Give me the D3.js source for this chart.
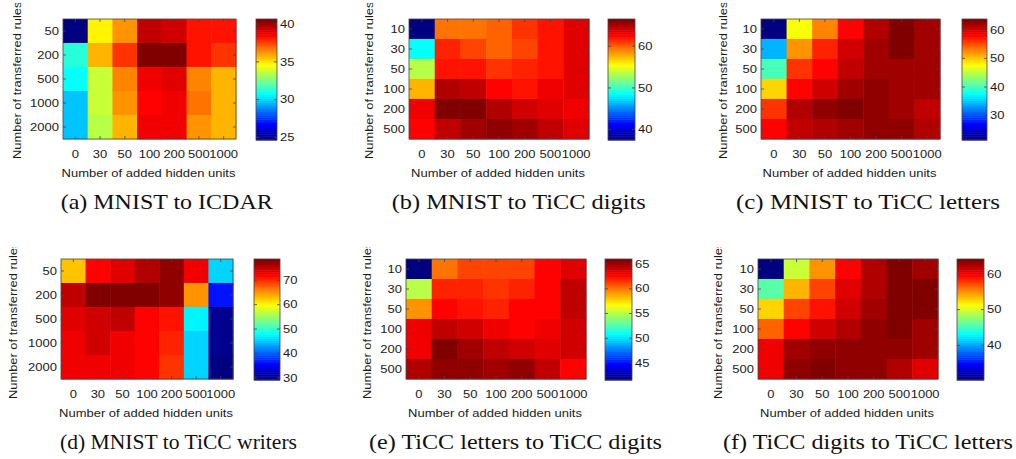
<!DOCTYPE html>
<html><head><meta charset="utf-8">
<script src="https://cdn.jsdelivr.net/npm/d3@7"></script>
<style>body{margin:0;background:#fff}svg{display:block}</style>
</head><body>
<svg id="c" width="1016" height="459"></svg>
<script>
// ---- data ----
const hiddenUnits = ["0","30","50","100","200","500","1000"];
const rulesLarge = ["50","200","500","1000","2000"];
const rulesSmall = ["10","30","50","100","200","500"];

const valuesA = [
  [24.6, 34.6, 36.2, 39.4, 39.1, 38.2, 38.2],
  [31.3, 35.6, 37.6, 40.6, 40.4, 38.2, 37.6],
  [30.6, 33.6, 36.4, 38.7, 39.0, 36.4, 35.8],
  [29.8, 33.8, 36.2, 38.4, 38.8, 36.8, 35.6],
  [29.8, 33.5, 35.8, 38.7, 38.8, 36.1, 35.6]
];
const valuesB = [
  [37.4, 59.2, 59.2, 60.0, 61.2, 62.3, 63.5],
  [48.4, 61.5, 60.9, 60.0, 60.6, 62.3, 63.5],
  [53.4, 62.3, 62.3, 61.2, 61.5, 62.3, 63.5],
  [57.7, 65.0, 64.4, 62.6, 62.3, 62.9, 63.5],
  [62.9, 66.4, 66.3, 65.0, 64.1, 63.5, 63.2],
  [62.6, 64.4, 65.2, 65.5, 65.2, 64.4, 63.5]
];
const valuesC = [
  [21.3, 47.5, 53.0, 58.1, 61.5, 63.2, 61.9],
  [34.0, 52.2, 56.4, 60.2, 61.9, 63.2, 61.9],
  [40.3, 56.0, 57.7, 60.6, 61.9, 61.9, 61.9],
  [49.2, 57.7, 60.2, 61.9, 62.3, 61.9, 61.9],
  [56.0, 61.0, 62.3, 63.6, 62.3, 61.9, 60.6],
  [57.7, 60.6, 61.5, 61.9, 62.3, 62.3, 61.5]
];
const valuesD = [
  [62.6, 72.0, 73.5, 76.0, 77.5, 73.0, 45.3],
  [75.0, 78.5, 78.4, 78.3, 77.5, 65.1, 36.3],
  [73.5, 74.0, 75.0, 72.0, 71.0, 47.3, 30.4],
  [72.5, 74.0, 72.5, 72.0, 70.6, 45.8, 29.9],
  [73.0, 73.0, 72.5, 72.0, 69.6, 45.3, 28.9]
];
const valuesE = [
  [41.5, 60.0, 61.0, 61.0, 61.0, 62.5, 63.5],
  [54.9, 62.0, 62.0, 61.5, 61.8, 62.5, 64.0],
  [59.1, 62.5, 62.2, 61.8, 62.7, 62.7, 64.0],
  [63.0, 64.0, 63.7, 63.0, 62.7, 63.2, 63.7],
  [63.0, 65.9, 64.9, 64.2, 63.7, 63.5, 63.7],
  [64.7, 65.2, 65.4, 64.9, 65.2, 64.0, 62.7]
];
const valuesF = [
  [30.2, 49.5, 54.5, 59.6, 62.3, 63.7, 62.6],
  [45.8, 53.9, 57.6, 60.6, 62.3, 63.7, 63.7],
  [52.5, 57.2, 58.9, 61.3, 62.6, 63.7, 63.7],
  [56.6, 59.6, 61.0, 62.0, 63.3, 63.7, 62.6],
  [60.3, 62.6, 63.0, 63.3, 63.3, 63.3, 62.6],
  [60.3, 63.0, 64.0, 63.3, 63.3, 62.0, 60.6]
];
const ticksA = [25,30,35,40];
const ticksB = [40,50,60];
const ticksC = [30,40,50,60];
const ticksD = [30,40,50,60,70];
const ticksE = [45,50,55,60,65];
const ticksF = [40,50,60];
const captions = ["(a) MNIST to ICDAR","(b) MNIST to TiCC digits","(c) MNIST to TiCC letters",
  "(d) MNIST to TiCC writers","(e) TiCC letters to TiCC digits","(f) TiCC digits to TiCC letters"];
const xLabel = "Number of added hidden units";
const yLabel = "Number of transferred rules";

// ---- layout (positions only) ----
const layout = [
  {hx:63,  hw:173, top:19,  cbx:256, cbw:21, ylx:20.7, capx:60.7, capw:212, clipTop:3},
  {hx:409, hw:180, top:19,  cbx:608, cbw:27, ylx:373.3,capx:391.7,capw:254, clipTop:3},
  {hx:761, hw:179, top:19,  cbx:962, cbw:25, ylx:726.7,capx:736,  capw:264, clipTop:3},
  {hx:61,  hw:172, top:259, cbx:254, cbw:26, ylx:17.3, capx:60,   capw:237, clipTop:247},
  {hx:406, hw:180, top:259, cbx:605, cbw:27, ylx:370.7,capx:369,  capw:293, clipTop:247},
  {hx:758, hw:180, top:259, cbx:957, cbw:27, ylx:722.3,capx:723,  capw:290, clipTop:247}
];
const H = 120;
const SX = 1.12;
const FS = 11.6;
const panelData = [
  {rows:rulesLarge, vals:valuesA, ticks:ticksA},
  {rows:rulesSmall, vals:valuesB, ticks:ticksB},
  {rows:rulesSmall, vals:valuesC, ticks:ticksC},
  {rows:rulesLarge, vals:valuesD, ticks:ticksD},
  {rows:rulesSmall, vals:valuesE, ticks:ticksE},
  {rows:rulesSmall, vals:valuesF, ticks:ticksF}
];

function jet(x){
  const c = v => Math.max(0, Math.min(1, v));
  const r = c(1.5 - Math.abs(4*x - 3)), g = c(1.5 - Math.abs(4*x - 2)), b = c(1.5 - Math.abs(4*x - 1));
  return d3.rgb(r*255, g*255, b*255).formatHex();
}
function jetIndexColor(t){
  const idx = Math.min(63, Math.max(0, Math.floor(t*64)));
  return jet(idx/63);
}

const svg = d3.select("#c");
const textCol = "#1a1a1a";
const lineCol = "#444";

panelData.forEach((pd, i) => {
  const L = layout[i];
  const g = svg.append("g");
  const x = d3.scaleBand().domain(hiddenUnits).range([L.hx, L.hx + L.hw]);
  const y = d3.scaleBand().domain(pd.rows).range([L.top, L.top + H]);
  const flat = pd.vals.flat();
  const [mn, mx] = d3.extent(flat);
  const t = v => (v - mn) / (mx - mn);

  // cells
  const cells = [];
  pd.rows.forEach((r, ri) => hiddenUnits.forEach((h, ci) => cells.push({r, h, v: pd.vals[ri][ci]})));
  g.selectAll("rect.cell").data(cells).join("rect")
    .attr("x", d => x(d.h)).attr("y", d => y(d.r))
    .attr("width", x.bandwidth() + 0.5).attr("height", y.bandwidth() + 0.5)
    .attr("fill", d => jetIndexColor(t(d.v)));

  // axes
  const axL = g.append("g").attr("transform", `translate(${L.hx},0)`)
    .call(d3.axisLeft(y).tickSize(-3).tickPadding(3.6));
  const axB = g.append("g").attr("transform", `translate(0,${L.top + H})`)
    .call(d3.axisBottom(x).tickSize(-3).tickPadding(11));
  g.append("g").attr("transform", `translate(${L.hx + L.hw},0)`)
    .call(d3.axisRight(y).tickSize(-3).tickFormat(""));
  g.append("g").attr("transform", `translate(0,${L.top})`)
    .call(d3.axisTop(x).tickSize(-3).tickFormat(""));
  g.selectAll(".domain").remove();
  g.selectAll(".tick line").attr("stroke", lineCol).attr("stroke-width", 0.8);
  [axL, axB].forEach(a => a.selectAll("text")
    .attr("font-family", "Liberation Sans, Arial, sans-serif")
    .attr("font-size", FS).attr("fill", textCol)
    .attr("transform", `scale(${SX},1)`));

  g.append("rect").attr("x", L.hx).attr("y", L.top).attr("width", L.hw).attr("height", H)
    .attr("fill", "none").attr("stroke", lineCol).attr("stroke-width", 0.8);

  // x label
  g.append("text").attr("transform", `translate(${L.hx + L.hw/2 - 1},${L.top + 158}) scale(${SX},1)`)
    .attr("text-anchor", "middle").attr("font-family", "Liberation Sans, Arial, sans-serif")
    .attr("font-size", FS).attr("fill", textCol).text(xLabel);

  // y label (clipped at the top of the sub-figure)
  const cid = "clip" + i;
  svg.append("clipPath").attr("id", cid).append("rect")
    .attr("x", L.ylx - 15).attr("y", L.clipTop).attr("width", 20).attr("height", 200);
  g.append("g").attr("clip-path", `url(#${cid})`)
    .append("text")
    .attr("transform", `translate(${L.ylx},${L.top + 140}) rotate(-90) scale(1.11,1)`)
    .attr("text-anchor", "start").attr("font-family", "Liberation Sans, Arial, sans-serif")
    .attr("font-size", FS).attr("fill", textCol).text(yLabel);

  // colorbar
  const cy = d3.scaleLinear().domain([mn, mx]).range([L.top + H + 1, L.top]);
  const steps = d3.range(64);
  g.selectAll("rect.cb").data(steps).join("rect")
    .attr("x", L.cbx).attr("width", L.cbw)
    .attr("y", k => cy(mn + (k + 1) / 64 * (mx - mn)))
    .attr("height", k => cy(mn + k / 64 * (mx - mn)) - cy(mn + (k + 1) / 64 * (mx - mn)) + 0.5)
    .attr("fill", k => jet(k / 63));
  const cbR = g.append("g").attr("transform", `translate(${L.cbx + L.cbw},0)`)
    .call(d3.axisRight(cy).tickValues(pd.ticks).tickSize(-3).tickPadding(2.7).tickFormat(d3.format("d")));
  g.append("g").attr("transform", `translate(${L.cbx},0)`)
    .call(d3.axisLeft(cy).tickValues(pd.ticks).tickSize(-3).tickFormat(""));
  g.selectAll(".domain").remove();
  g.selectAll(".tick line").attr("stroke", lineCol).attr("stroke-width", 0.8);
  cbR.selectAll("text").attr("font-family", "Liberation Sans, Arial, sans-serif")
    .attr("font-size", FS).attr("fill", textCol).attr("transform", `scale(${SX},1)`);
  g.append("rect").attr("x", L.cbx).attr("y", L.top).attr("width", L.cbw).attr("height", H + 1)
    .attr("fill", "none").attr("stroke", lineCol).attr("stroke-width", 0.8);

  // caption
  g.append("text").attr("x", L.capx).attr("y", L.top + 190)
    .attr("font-family", "Liberation Serif, Times New Roman, serif")
    .attr("font-size", 22).attr("fill", "#111")
    .attr("textLength", L.capw).attr("lengthAdjust", "spacingAndGlyphs")
    .text(captions[i]);
});
</script>
</body></html>
